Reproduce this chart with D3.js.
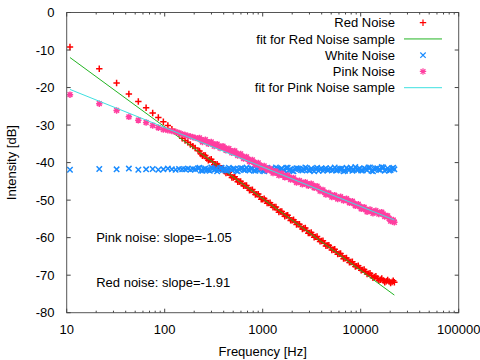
<!DOCTYPE html>
<html>
<head>
<meta charset="utf-8">
<script src="https://cdn.jsdelivr.net/npm/d3@7"></script>
<style>
  body { margin: 0; background: #fff; }
  svg { display: block; font-family: "Liberation Sans", Arial, sans-serif; }
</style>
</head>
<body>
<svg id="chart" width="480" height="360"></svg>
<script>
// frequencies of the plotted samples [Hz]
const freqs = [
  10.8, 21.5, 32.3, 43.1, 53.8, 64.6, 75.4, 86.1, 96.9, 107.7,
  118.4, 129.2, 140.0, 150.7, 161.5, 172.3, 183.0, 193.8, 204.6, 218.8,
  234.4, 251.2, 269.2, 288.4, 309.0, 331.1, 354.8, 380.2, 407.4, 436.5,
  467.7, 501.2, 537.0, 575.4, 616.6, 660.7, 707.9, 758.6, 812.8, 871.0,
  933.3, 1000, 1072, 1148, 1230, 1318, 1413, 1514, 1622, 1738,
  1862, 1995, 2138, 2291, 2455, 2630, 2818, 3020, 3236, 3467,
  3715, 3981, 4266, 4571, 4898, 5248, 5623, 6026, 6457, 6918,
  7413, 7943, 8511, 9120, 9772, 10471, 11220, 12023, 12882, 13804,
  14791, 15849, 16982, 18197, 19498, 20893, 22050,
  // in-between samples of the dense part
  226.5, 242.7, 260.0, 278.6, 298.5, 319.9, 342.8, 367.3, 393.6, 421.7,
  451.9, 484.2, 518.8, 555.9, 595.7, 638.3, 683.9, 732.8, 785.2, 841.4,
  901.6, 966.1, 1035, 1109, 1189, 1274, 1365, 1462, 1567, 1679,
  1799, 1928, 2065, 2213, 2371, 2541, 2723, 2917, 3126, 3350,
  3589, 3846, 4121, 4416, 4732, 5070, 5433, 5821, 6237, 6683,
  7161, 7674, 8222, 8810, 9441, 10116, 10839, 11614, 12445, 13335,
  14289, 15311, 16406, 17579, 18836, 20184, 21478
];
const redNoise = [
  -9.2, -15.0, -18.8, -21.7, -23.7, -25.4, -26.8, -28.0, -29.1, -30.1,
  -31.1, -31.8, -32.3, -33.5, -34.1, -34.6, -35.2, -35.6, -36.1, -36.8,
  -37.7, -38.0, -38.9, -39.2, -39.8, -40.6, -40.9, -41.5, -42.3, -42.6,
  -43.3, -44.0, -44.4, -45.1, -45.6, -46.1, -46.8, -47.3, -47.9, -48.4,
  -49.1, -49.8, -50.1, -50.8, -51.3, -51.8, -52.6, -53.0, -53.7, -54.1,
  -54.7, -55.4, -55.8, -56.4, -57.1, -57.5, -58.1, -58.8, -59.2, -59.8,
  -60.4, -60.9, -61.5, -62.1, -62.6, -63.2, -63.8, -64.3, -64.9, -65.5,
  -66.0, -66.5, -67.1, -67.6, -68.1, -68.6, -69.1, -69.6, -70.1, -70.5,
  -70.9, -71.2, -71.4, -71.6, -71.7, -71.8, -71.9,
  -36.9, -38.2, -38.1, -39.4, -39.1, -40.6, -40.4, -41.6, -41.5, -42.8,
  -42.6, -44.0, -43.8, -45.1, -45.0, -46.2, -46.1, -47.4, -47.2, -48.5,
  -48.4, -49.8, -49.6, -50.8, -50.7, -51.9, -51.8, -53.2, -53.0, -54.3,
  -54.0, -55.4, -55.2, -56.5, -56.4, -57.7, -57.4, -58.8, -58.6, -59.9,
  -59.7, -61.0, -60.8, -62.2, -62.0, -63.3, -63.1, -64.4, -64.2, -65.6,
  -65.4, -66.6, -66.4, -67.7, -67.5, -68.7, -68.5, -69.7, -69.5, -70.7,
  -70.3, -71.4, -70.9, -71.9, -71.3, -72.1, -71.5
];
const whiteNoise = [
  -41.9, -41.7, -41.8, -41.6, -41.9, -41.8, -41.7, -41.9, -41.8, -41.6,
  -41.8, -41.9, -41.7, -41.8, -41.8, -41.6, -41.9, -41.7, -41.8, -41.5,
  -42.1, -41.7, -41.9, -42.2, -41.6, -41.8, -42.0, -41.4, -41.9, -42.1,
  -41.7, -41.6, -42.2, -41.8, -41.5, -42.0, -41.9, -41.6, -42.1, -41.7,
  -41.8, -42.2, -41.5, -41.9, -41.7, -42.1, -41.6, -41.8, -42.0, -41.4,
  -41.9, -42.2, -41.7, -41.6, -42.0, -41.8, -41.5, -42.1, -41.9, -41.7,
  -42.2, -41.6, -41.8, -42.0, -41.5, -41.9, -42.1, -41.7, -41.6, -42.2,
  -41.8, -41.4, -42.0, -41.9, -41.6, -42.1, -41.7, -41.3, -42.2, -41.8,
  -41.5, -42.0, -41.3, -41.9, -42.1, -41.6, -41.8,
  -41.4, -42.2, -41.6, -42.0, -41.3, -41.9, -42.3, -41.5, -41.8, -42.1,
  -41.4, -42.0, -41.7, -42.3, -41.5, -41.9, -41.3, -42.1, -41.6, -42.2,
  -41.5, -41.9, -42.3, -41.4, -41.8, -42.1, -41.3, -42.0, -41.6, -42.2,
  -41.4, -41.9, -42.3, -41.5, -41.7, -42.1, -41.3, -42.0, -41.6, -42.3,
  -41.4, -41.8, -42.2, -41.5, -41.9, -42.1, -41.3, -42.0, -41.7, -42.3,
  -41.4, -41.9, -42.2, -41.2, -41.8, -42.1, -41.5, -42.0, -41.3, -42.3,
  -41.6, -41.9, -41.2, -42.2, -41.5, -42.0, -41.4
];
const pinkNoise = [
  -21.9, -24.3, -26.1, -27.8, -28.7, -29.3, -30.1, -30.7, -31.2, -31.4,
  -31.6, -31.8, -32.1, -32.4, -32.6, -32.9, -33.0, -33.2, -33.4, -33.6,
  -33.9, -34.2, -34.4, -34.7, -35.0, -35.3, -35.6, -35.8, -36.1, -36.5,
  -36.8, -37.1, -37.5, -37.9, -38.3, -38.7, -39.1, -39.5, -39.9, -40.3,
  -40.7, -41.1, -41.4, -41.8, -42.2, -42.5, -42.8, -43.1, -43.4, -43.6,
  -43.9, -44.3, -44.7, -45.0, -45.3, -45.5, -45.7, -45.9, -46.1, -46.4,
  -46.9, -47.4, -47.9, -48.3, -48.6, -48.9, -49.2, -49.4, -49.6, -49.8,
  -50.1, -50.5, -50.9, -51.3, -51.7, -52.1, -52.5, -52.8, -53.0, -53.1,
  -53.2, -53.4, -53.7, -54.2, -54.9, -55.5, -55.9,
  -33.4, -34.5, -33.9, -35.0, -34.5, -35.6, -35.1, -36.1, -35.6, -36.7,
  -36.3, -37.4, -36.9, -38.1, -37.7, -38.9, -38.5, -39.7, -39.3, -40.5,
  -40.1, -41.3, -40.9, -42.0, -41.6, -42.8, -42.3, -43.4, -42.9, -43.9,
  -43.4, -44.5, -44.1, -45.3, -44.8, -45.8, -45.2, -46.2, -45.6, -46.7,
  -46.3, -47.6, -47.3, -48.5, -48.1, -49.2, -48.7, -49.7, -49.1, -50.1,
  -49.6, -50.7, -50.3, -51.5, -51.1, -52.3, -51.9, -53.1, -52.5, -53.5,
  -52.8, -53.7, -53.2, -54.4, -54.2, -55.6, -55.3
];
// fitted lines, end points
const fitFreqs = [10.8, 22050];
const redFit = [-12.0, -75.3];
const pinkFit = [-20.5, -55.3];

const xTicks = [10, 100, 1000, 10000, 100000];
const yTicks = [0, -10, -20, -30, -40, -50, -60, -70, -80];
const notes = [
  { text: "Pink noise: slope=-1.05", f: 20, v: -60 },
  { text: "Red noise: slope=-1.91", f: 20, v: -72 }
];

const plotLeft = 66.7, plotRight = 458.7, plotTop = 12.5, plotBottom = 312.7;
const svg = d3.select("#chart");

const x = d3.scaleLog().domain([10, 100000]).range([plotLeft, plotRight]);
const y = d3.scaleLinear().domain([-80, 0]).range([plotBottom, plotTop]);

const plus = s => `M${-s},0H${s}M0,${-s}V${s}`;
const cross = s => `M${-s},${-s}L${s},${s}M${-s},${s}L${s},${-s}`;
const star = s => plus(s) + cross(s * 0.75);

const series = [
  { name: "Red Noise", type: "pts", vals: redNoise, color: "#ff0000", sym: plus(3.2) },
  { name: "fit for Red Noise sample", type: "line", vals: redFit, color: "#22b422" },
  { name: "White Noise", type: "pts", vals: whiteNoise, color: "#1a8cff", sym: cross(2.7) },
  { name: "Pink Noise", type: "pts", vals: pinkNoise, color: "#ff3fa0", sym: star(3.2) },
  { name: "fit for Pink Noise sample", type: "line", vals: pinkFit, color: "#3ee0e0" }
];

// clip for the data
svg.append("clipPath").attr("id", "plotclip")
  .append("rect").attr("x", plotLeft).attr("y", plotTop)
  .attr("width", plotRight - plotLeft).attr("height", plotBottom - plotTop);

const plot = svg.append("g").attr("clip-path", "url(#plotclip)");
const line = d3.line().x(d => x(d[0])).y(d => y(d[1]));

series.forEach(s => {
  if (s.type === "pts") {
    plot.append("g")
      .selectAll("path")
      .data(freqs.map((f, i) => [f, s.vals[i]]))
      .join("path")
      .attr("transform", d => `translate(${x(d[0])},${y(d[1])})`)
      .attr("d", s.sym)
      .attr("fill", "none")
      .attr("stroke", s.color)
      .attr("stroke-width", 1.5);
  } else {
    plot.append("path")
      .datum(fitFreqs.map((f, i) => [f, s.vals[i]]))
      .attr("d", line)
      .attr("fill", "none")
      .attr("stroke", s.color)
      .attr("stroke-width", 1);
  }
});

// border
svg.append("rect")
  .attr("x", plotLeft).attr("y", plotTop)
  .attr("width", plotRight - plotLeft).attr("height", plotBottom - plotTop)
  .attr("fill", "none").attr("stroke", "#555").attr("stroke-width", 1);

// ticks
const tickG = svg.append("g").attr("stroke", "#444").attr("stroke-width", 1);
const minor = [];
for (let d = 10; d < 100000; d *= 10) for (let m = 2; m <= 9; m++) minor.push(d * m);
xTicks.forEach(t => {
  tickG.append("line").attr("x1", x(t)).attr("x2", x(t)).attr("y1", plotBottom).attr("y2", plotBottom - 4);
  tickG.append("line").attr("x1", x(t)).attr("x2", x(t)).attr("y1", plotTop).attr("y2", plotTop + 4);
});
minor.forEach(t => {
  tickG.append("line").attr("x1", x(t)).attr("x2", x(t)).attr("y1", plotBottom).attr("y2", plotBottom - 2);
  tickG.append("line").attr("x1", x(t)).attr("x2", x(t)).attr("y1", plotTop).attr("y2", plotTop + 2);
});
yTicks.forEach(t => {
  tickG.append("line").attr("x1", plotLeft).attr("x2", plotLeft + 4).attr("y1", y(t)).attr("y2", y(t));
  tickG.append("line").attr("x1", plotRight).attr("x2", plotRight - 4).attr("y1", y(t)).attr("y2", y(t));
});

const txt = svg.append("g").attr("font-size", 13).attr("fill", "#000");
yTicks.forEach(t => {
  txt.append("text").attr("x", 54.5).attr("y", y(t)).attr("dy", "0.35em")
    .attr("text-anchor", "end").text(t);
});
xTicks.forEach(t => {
  txt.append("text").attr("x", x(t)).attr("y", 333.5)
    .attr("text-anchor", "middle").text(t);
});
txt.append("text").attr("x", (plotLeft + plotRight) / 2).attr("y", 355.5)
  .attr("text-anchor", "middle").text("Frequency [Hz]");
txt.append("text").attr("transform", `translate(16,${(plotTop + plotBottom) / 2}) rotate(-90)`)
  .attr("text-anchor", "middle").text("Intensity [dB]");

notes.forEach(n => {
  txt.append("text").attr("x", x(n.f)).attr("y", y(n.v)).attr("dy", "0.35em").text(n.text);
});

// legend
const leg = svg.append("g");
series.forEach((s, i) => {
  const ly = 22.7 + i * 16.25;
  leg.append("text").attr("x", 395).attr("y", ly).attr("dy", "0.35em")
    .attr("text-anchor", "end").attr("font-size", 13).text(s.name);
  if (s.type === "pts") {
    leg.append("path").attr("transform", `translate(423,${ly})`).attr("d", s.sym)
      .attr("fill", "none").attr("stroke", s.color).attr("stroke-width", 1.2);
  } else {
    leg.append("line").attr("x1", 404).attr("x2", 442).attr("y1", ly).attr("y2", ly)
      .attr("stroke", s.color).attr("stroke-width", 1);
  }
});
</script>
</body>
</html>
